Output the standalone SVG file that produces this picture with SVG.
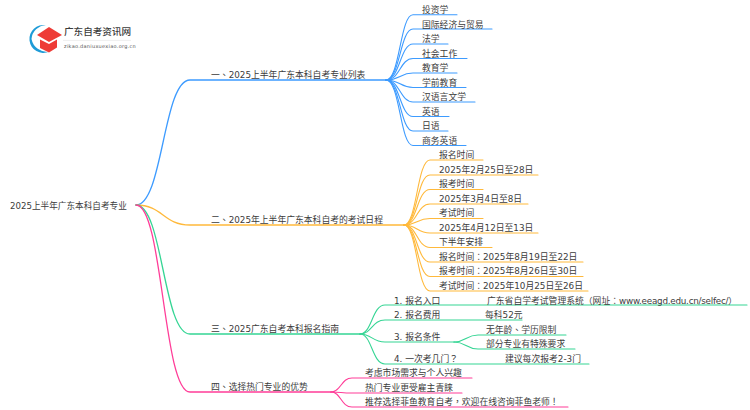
<svg xmlns="http://www.w3.org/2000/svg" width="750" height="410" viewBox="0 0 750 410">
<style>
text{font-family:"DejaVu Sans","Noto Sans CJK SC",sans-serif;font-size:8.8px;fill:#3c3c3c}
.t{font-family:"Noto Sans CJK TC",sans-serif}
.u{letter-spacing:-.25px}
.c{fill:none;stroke-width:1.1;stroke-linecap:round}
.m{stroke-width:1.3}
.b{stroke:#3d9bff}.o{stroke:#ffb93b}.g{stroke:#35d594}.p{stroke:#ff3d98}
</style>
<rect width="750" height="410" fill="#fff"/>
<g id="connectors">
<g class="c b">
<path class="m" d="M136 205C163 205 163 80 190 80H386"/>
<path d="M386 80C400 80 400 14.700 413 14.700H457"/>
<path d="M386 80C400 80 400 29 413 29H492"/>
<path d="M386 80C400 80 400 44 413 44H448"/>
<path d="M386 80C400 80 400 58.500 413 58.500H467"/>
<path d="M386 80C400 80 400 73 413 73H457"/>
<path d="M386 80C400 80 400 87.500 413 87.500H466"/>
<path d="M386 80C400 80 400 102 413 102H475"/>
<path d="M386 80C400 80 400 116.500 413 116.500H449"/>
<path d="M386 80C400 80 400 131 413 131H448"/>
<path d="M386 80C400 80 400 145.500 413 145.500H466"/>
</g>
<g class="c o">
<path class="m" d="M136 205C163 205 163 225 190 225H404"/>
<path d="M404 225C417 225 417 160 430 160H483"/>
<path d="M404 225C417 225 417 175 430 175H538"/>
<path d="M404 225C417 225 417 189.500 430 189.500H483"/>
<path d="M404 225C417 225 417 204 430 204H528"/>
<path d="M404 225C417 225 417 218.500 430 218.500H483"/>
<path d="M404 225C417 225 417 233 430 233H538"/>
<path d="M404 225C417 225 417 247.500 430 247.500H492"/>
<path d="M404 225C417 225 417 262 430 262H583"/>
<path d="M404 225C417 225 417 276.500 430 276.500H583"/>
<path d="M404 225C417 225 417 291 430 291H588"/>
</g>
<g class="c g">
<path class="m" d="M136 205C163 205 163 334 190 334H360"/>
<path d="M360 334C372 334 372 305 385 305H747"/>
<path d="M360 334C372 334 372 320 385 320H522"/>
<path d="M360 334C372 334 372 342 385 342H454"/>
<path d="M360 334C372 334 372 364 385 364H589"/>
<path d="M454 342C466 342 466 335 478 335H566"/>
<path d="M454 342C466 342 466 349 478 349H575"/>
</g>
<g class="c p">
<path class="m" d="M136 205C163 205 163 392 190 392H331"/>
<path d="M331 392C341 392 341 378 352 378H472"/>
<path d="M331 392C341 392 341 393 352 393H462"/>
<path d="M331 392C341 392 341 407 352 407H568"/>
</g>
</g>
<g id="logo">
<path d="M46 25.200A14 14 0 1 0 49 51.800A16 16 0 0 1 31.500 39A15 15 0 0 1 46 25.200Z" fill="#1e9bd7"/>
<path d="M49 27L62 35L49 42L37 35Z" fill="#ee3b36"/>
<path d="M40 39.500L49 44L57 39.500V47.500L49 52.500L40 48Z" fill="#ee3b36"/>
<text x="64" y="35" style="font-size:9.600px;font-weight:500">广东自考资讯网</text>
<path d="M63 40.400H131" stroke="#e6e6e6" stroke-width=".7"/>
<text x="64" y="48" style="font-size:5px;letter-spacing:.27px;fill:#555">zikao.daniuxuexiao.org.cn</text>
</g>
<g id="root"><text x="10" y="208.500" style="font-size:8.650px">2025上半年广东本科自考专业</text></g>
<g id="n1"><text x="211" y="77.500">一<tspan class="t">、</tspan>2025上半年广东本科自考专业列表</text></g>
<g id="n1-1"><text x="422" y="13">投资学</text></g>
<g id="n1-2"><text x="422" y="27.500">国际经济与贸易</text></g>
<g id="n1-3"><text x="422" y="42">法学</text></g>
<g id="n1-4"><text x="422" y="56.500">社会工作</text></g>
<g id="n1-5"><text x="422" y="71">教育学</text></g>
<g id="n1-6"><text x="422" y="85.500">学前教育</text></g>
<g id="n1-7"><text x="422" y="100">汉语言文学</text></g>
<g id="n1-8"><text x="422" y="114.500">英语</text></g>
<g id="n1-9"><text x="422" y="129">日语</text></g>
<g id="n1-10"><text x="422" y="143.500">商务英语</text></g>
<g id="n2"><text x="211" y="222.800">二<tspan class="t">、</tspan>2025年上半年广东本科自考的考试日程</text></g>
<g id="n2-1"><text x="439" y="158">报名时间</text></g>
<g id="n2-2"><text x="439" y="172.700">2025年2月25日至28日</text></g>
<g id="n2-3"><text x="439" y="187.200">报考时间</text></g>
<g id="n2-4"><text x="439" y="201.700">2025年3月4日至8日</text></g>
<g id="n2-5"><text x="439" y="216.200">考试时间</text></g>
<g id="n2-6"><text x="439" y="230.700">2025年4月12日至13日</text></g>
<g id="n2-7"><text x="439" y="245.200">下半年安排</text></g>
<g id="n2-8"><text x="439" y="259.700">报名时间<tspan class="t">：</tspan>2025年8月19日至22日</text></g>
<g id="n2-9"><text x="439" y="274.200">报考时间<tspan class="t">：</tspan>2025年8月26日至30日</text></g>
<g id="n2-10"><text x="439" y="288.700">考试时间<tspan class="t">：</tspan>2025年10月25日至26日</text></g>
<g id="n3"><text x="211" y="331.800">三<tspan class="t">、</tspan>2025广东自考本科报名指南</text></g>
<g id="n3-1"><text x="394" y="303.500">1. 报名入口</text></g>
<g id="n3-1-1"><text x="487" y="303.500">广东省自学考试管理系统<tspan class="t">（</tspan>网址<tspan class="t">：</tspan><tspan class="u">www.eeagd.edu.cn/selfec/</tspan><tspan class="t">）</tspan></text></g>
<g id="n3-2"><text x="394" y="318">2. 报名费用</text></g>
<g id="n3-2-1"><text x="485" y="318">每科52元</text></g>
<g id="n3-3"><text x="394" y="339.500">3. 报名条件</text></g>
<g id="n3-3-1"><text x="486" y="332.500">无年龄<tspan class="t">、</tspan>学历限制</text></g>
<g id="n3-3-2"><text x="486" y="347">部分专业有特殊要求</text></g>
<g id="n3-4"><text x="394" y="361.500">4. 一次考几门<tspan class="t">？</tspan></text></g>
<g id="n3-4-1"><text x="505" y="361.500">建议每次报考2-3门</text></g>
<g id="n4"><text x="211" y="390">四<tspan class="t">、</tspan>选择热门专业的优势</text></g>
<g id="n4-1"><text x="365" y="376">考虑市场需求与个人兴趣</text></g>
<g id="n4-2"><text x="365" y="390.500">热门专业更受雇主青睐</text></g>
<g id="n4-3"><text x="365" y="405">推荐选择菲鱼教育自考<tspan class="t">，</tspan>欢迎在线咨询菲鱼老师<tspan class="t">！</tspan></text></g>
</svg>
